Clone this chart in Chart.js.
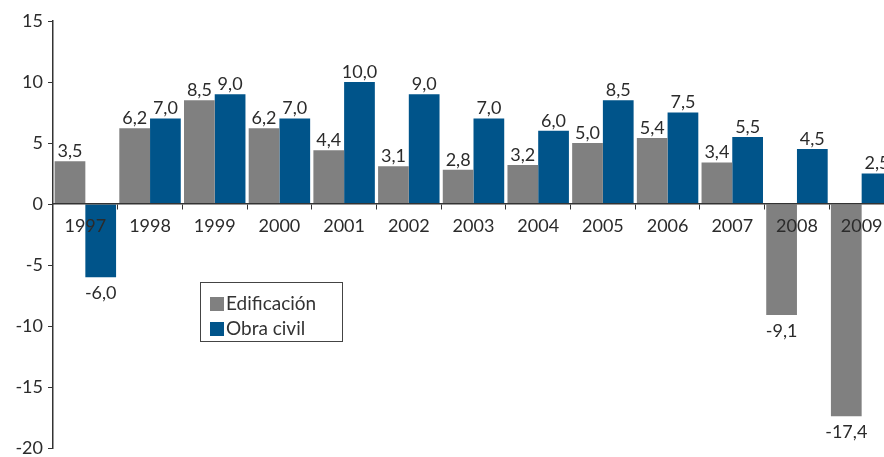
<!DOCTYPE html>
<html>
<head>
<meta charset="utf-8">
<script src="https://cdn.jsdelivr.net/npm/chart.js@4.4.1/dist/chart.umd.min.js"></script>
<style>
  html, body { margin: 0; padding: 0; background: #fff; overflow: hidden; }
  #wrap { position: relative; width: 930px; height: 470px; }
  #legend {
    position: absolute; left: 200px; top: 282px; width: 143px; height: 60px;
    border: 1.5px solid #444; font-family: Lato, "Open Sans", sans-serif;
    font-size: 19px; color: #333; box-sizing: border-box; padding: 7px 0 0 9px;
  }
  #legend div { height: 25px; line-height: 25px; white-space: nowrap; }
  #legend span { display: inline-block; width: 14px; height: 14px; margin-right: 2px; vertical-align: -1px; }
</style>
</head>
<body>
<div id="wrap">
  <canvas id="chart" width="930" height="470"></canvas>
  <div id="legend">
    <div><span style="background:#808080"></span>Edificación</div>
    <div><span style="background:#00548a"></span>Obra civil</div>
  </div>
</div>
<script>
const years = ['1997', '1998', '1999', '2000', '2001', '2002', '2003', '2004', '2005', '2006', '2007', '2008', '2009'];
const edificacion = [3.5, 6.2, 8.5, 6.2, 4.4, 3.1, 2.8, 3.2, 5.0, 5.4, 3.4, -9.1, -17.4];
const obraCivil = [-6.0, 7.0, 9.0, 7.0, 10.0, 9.0, 7.0, 6.0, 8.5, 7.5, 5.5, 4.5, 2.5];
const yTicks = [15, 10, 5, 0, -5, -10, -15, -20];

const textColor = '#2b2b2b';
const font = { family: 'Lato, "Open Sans", sans-serif', size: 18 };

// etiquetas de valor sobre/bajo cada barra
const valueLabels = {
  id: 'valueLabels',
  afterDatasetsDraw(chart) {
    const ctx = chart.ctx;
    ctx.save();
    ctx.font = font.size + 'px ' + font.family;
    ctx.fillStyle = textColor;
    ctx.textAlign = 'center';
    chart.data.datasets.forEach((ds, i) => {
      chart.getDatasetMeta(i).data.forEach((bar, j) => {
        const v = ds.data[j];
        const txt = v.toFixed(1).replace('.', ',');
        if (v >= 0) {
          ctx.textBaseline = 'bottom';
          ctx.fillText(txt, bar.x, bar.y - 1);
        } else {
          ctx.textBaseline = 'top';
          ctx.fillText(txt, bar.x, bar.y + 7);
        }
      });
    });
    ctx.restore();
  }
};

new Chart(document.getElementById('chart'), {
  type: 'bar',
  data: {
    labels: years,
    datasets: [
      { label: 'Edificación', data: edificacion, backgroundColor: '#808080' },
      { label: 'Obra civil', data: obraCivil, backgroundColor: '#00548a' }
    ]
  },
  options: {
    responsive: false,
    animation: false,
    layout: { padding: { top: 21, right: 36, bottom: 22, left: 0 } },
    datasets: { bar: { categoryPercentage: 0.95, barPercentage: 1.0 } },
    plugins: { legend: { display: false }, tooltip: { enabled: false } },
    scales: {
      x: {
        position: { y: 0 },
        grid: { display: true, drawOnChartArea: false, tickLength: 5, color: '#333', offset: true, z: 1 },
        border: { display: true, color: '#333', width: 1.5, z: 1 },
        ticks: { color: textColor, font: font, padding: 6, maxRotation: 0, z: 1 }
      },
      y: {
        min: -20,
        max: 15,
        afterBuildTicks: (scale) => { scale.ticks = yTicks.map(v => ({ value: v })); },
        afterFit: (scale) => { scale.width = 53; },
        grid: { display: true, drawOnChartArea: false, tickLength: 5, color: '#333' },
        border: { display: true, color: '#333', width: 1.5 },
        ticks: { color: textColor, font: font, padding: 5 }
      }
    }
  },
  plugins: [valueLabels]
});
</script>
</body>
</html>
